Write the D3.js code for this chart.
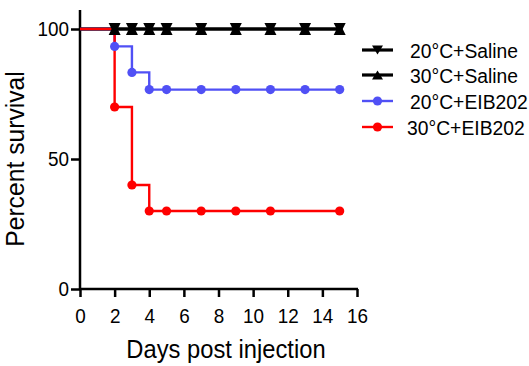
<!DOCTYPE html>
<html><head><meta charset="utf-8">
<script src="https://cdn.jsdelivr.net/npm/d3@7"></script>
<style>body{margin:0;background:#fff}svg{display:block}text{font-family:"Liberation Sans",Arial,sans-serif}</style>
</head><body>
<svg id="c" width="529" height="366"></svg>
<script>
const seriesNames = ["20°C+Saline","30°C+Saline","20°C+EIB202","30°C+EIB202"];
const seriesColors = ["#000000","#000000","#5050f5","#ff0000"];
const seriesSymbols = ["tri-down","tri-up","circle","circle"];
// step curve points (day, percent)
const salineDays = [0,2,3,4,5,7,9,11,13,15];
const salineVals = [100,100,100,100,100,100,100,100,100,100];
const blueDays = [0,2,3,4,5,7,9,11,13,15];
const blueVals = [100,93.3,83.3,76.7,76.7,76.7,76.7,76.7,76.7,76.7];
const redDays = [0,2,3,4,5,7,9,11,15];
const redVals = [100,70,40,30,30,30,30,30,30];
const xTicks = [0,2,4,6,8,10,12,14,16];
const yTicks = [0,50,100];

const SX = 0.9; // horizontal squeeze of tick text to match reference glyph shape
const svg = d3.select("#c");
const x = d3.scaleLinear().domain([0,16]).range([80,357]);
const y = d3.scaleLinear().domain([0,100]).range([289,29]);

const series = [
  {days: salineDays, vals: salineVals},
  {days: salineDays, vals: salineVals},
  {days: blueDays, vals: blueVals},
  {days: redDays, vals: redVals}
];

// axes
const xa = svg.append("g").attr("transform","translate(0,289)")
  .call(d3.axisBottom(x).tickValues(xTicks).tickSize(8).tickPadding(11));
const ya = svg.append("g").attr("transform","translate(80,0)")
  .call(d3.axisLeft(y).tickValues(yTicks).tickSize(9).tickPadding(2));
[xa,ya].forEach(a=>{
  a.select(".domain").remove();
  a.selectAll(".tick line").attr("stroke","#000").attr("stroke-width",2.5);
  a.selectAll(".tick text").attr("font-size",21).attr("fill","#000")
    .attr("font-family","Liberation Sans, Arial, sans-serif");
});
xa.selectAll(".tick text").attr("x",0).attr("transform",`scale(${SX},1)`);
ya.selectAll(".tick text").attr("x",0).attr("transform",`translate(-11,0) scale(${SX},1)`);

svg.append("line").attr("x1",80).attr("x2",80).attr("y1",10).attr("y2",290).attr("stroke","#000").attr("stroke-width",2.5);
svg.append("line").attr("x1",79).attr("x2",x(16)+1).attr("y1",289).attr("y2",289).attr("stroke","#000").attr("stroke-width",2.5);

const line = d3.line().x(d=>x(d[0])).y(d=>y(d[1])).curve(d3.curveStepAfter);

function drawSymbol(g, type, cx, cy, color, w, h){
  if(type==="circle"){
    g.append("circle").attr("cx",cx).attr("cy",cy).attr("r",4.6).attr("fill",color);
  } else {
    const d = type==="tri-up"
      ? `M0,${-h/2}L${w/2},${h/2}L${-w/2},${h/2}Z`
      : `M0,${h/2}L${w/2},${-h/2}L${-w/2},${-h/2}Z`;
    g.append("path").attr("d",d).attr("fill",color)
      .attr("transform",`translate(${cx},${cy})`);
  }
}

const pts = series.map(s=>s.days.map((d,j)=>[d,s.vals[j]]));
// lines: saline first, then blue, red on top
[0,1,2,3].forEach(i=>{
  svg.append("path").attr("d",line(pts[i])).attr("fill","none")
    .attr("stroke",seriesColors[i]).attr("stroke-width", i<2?3.2:2.4);
});
// markers
[2,3,0,1].forEach(i=>{
  const g = svg.append("g");
  pts[i].slice(1).forEach(p=>drawSymbol(g, seriesSymbols[i], x(p[0]), y(p[1]), seriesColors[i], 12, 12));
});

// legend
const legY = [50,75,101,127];
const legX = [410,410,410,407];
seriesNames.forEach((n,i)=>{
  const g = svg.append("g");
  g.append("line").attr("x1",362).attr("x2",393).attr("y1",legY[i]).attr("y2",legY[i])
    .attr("stroke",seriesColors[i]).attr("stroke-width", i<2?3.2:2.4);
  drawSymbol(g, seriesSymbols[i], 377.5, legY[i], seriesColors[i], 11, 9);
  g.append("text").attr("transform",`translate(${legX[i]},${legY[i]}) scale(0.92,1)`).attr("dy","0.36em")
    .attr("font-size",21).text(n);
});

// axis titles
svg.append("text").attr("transform",`translate(226,358) scale(0.95,1)`).attr("text-anchor","middle")
  .attr("font-size",25).text("Days post injection");
svg.append("text").attr("transform",`translate(24,159) rotate(-90) scale(0.95,1)`).attr("text-anchor","middle")
  .attr("font-size",26).text("Percent survival");
</script>
</body></html>
